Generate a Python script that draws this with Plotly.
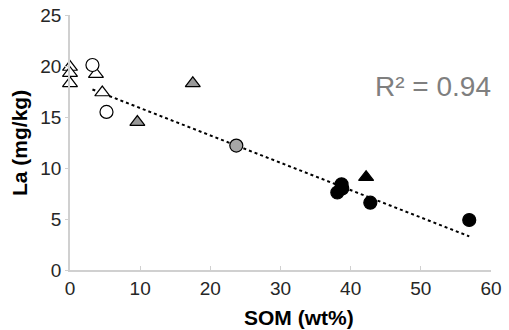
import plotly.graph_objects as go

# Data
open_tri_x = [0.0, 0.0, 0.0, 3.7, 4.6]
open_tri_y = [19.9, 19.3, 18.3, 19.2, 17.4]
open_circ_x = [3.2, 5.2]
open_circ_y = [20.1, 15.5]
gray_tri_x = [9.6, 17.5]
gray_tri_y = [14.5, 18.3]
gray_circ_x = [23.7]
gray_circ_y = [12.2]
black_circ_x = [38.7, 38.8, 38.1, 42.8, 56.9]
black_circ_y = [8.4, 8.0, 7.6, 6.6, 4.9]
black_tri_x = [42.2]
black_tri_y = [9.1]
trend_x = [3.2, 56.9]
trend_y = [17.7, 3.3]
r2_text = "R² = 0.94"
x_title = "SOM (wt%)"
y_title = "La (mg/kg)"

FONT = "Liberation Sans, Arial"
fig = go.Figure()
line_common = dict(color="#000000", width=1.2)

fig.add_trace(go.Scatter(x=trend_x, y=trend_y, mode="lines",
                         line=dict(color="#000000", width=2, dash="dot"),
                         showlegend=False, hoverinfo="skip"))

def add(x, y, symbol, fill, size):
    fig.add_trace(go.Scatter(x=x, y=y, mode="markers", showlegend=False,
                             cliponaxis=False,
                             marker=dict(symbol=symbol, size=size, color=fill,
                                         line=line_common)))

add(open_tri_x, open_tri_y, "triangle-up", "#ffffff", 13)
add(open_circ_x, open_circ_y, "circle", "#ffffff", 13)
add(gray_tri_x, gray_tri_y, "triangle-up", "#999999", 13)
add(gray_circ_x, gray_circ_y, "circle", "#a6a6a6", 13)
add(black_circ_x, black_circ_y, "circle", "#000000", 13)
add(black_tri_x, black_tri_y, "triangle-up", "#000000", 13)

fig.add_annotation(x=1.005, y=0.72, xref="paper", yref="paper", text=r2_text,
                   showarrow=False, xanchor="right", yanchor="middle",
                   font=dict(family=FONT, size=28, color="#7f7f7f"))
fig.add_annotation(x=0.543, y=-0.185, xref="paper", yref="paper",
                   text="<b>" + x_title + "</b>", showarrow=False,
                   xanchor="center", yanchor="middle",
                   font=dict(family=FONT, size=21, color="#000000"))
fig.add_annotation(x=-0.12, y=0.5, xref="paper", yref="paper",
                   text="<b>" + y_title + "</b>", showarrow=False, textangle=-90,
                   xanchor="center", yanchor="middle",
                   font=dict(family=FONT, size=21, color="#000000"))

fig.update_layout(
    width=509, height=330,
    margin=dict(l=70, r=18, t=15, b=60),
    plot_bgcolor="#ffffff", paper_bgcolor="#ffffff",
    font=dict(family=FONT, size=19, color="#262626"),
)
fig.update_xaxes(range=[0, 60], dtick=10, showgrid=False, zeroline=False,
                 showline=True, linecolor="#d0d0d0", linewidth=1.5,
                 ticks="inside", ticklen=4, tickcolor="#d0d0d0",
                 automargin=False)
fig.update_yaxes(range=[0, 25], dtick=5, showgrid=False, zeroline=False,
                 showline=True, linecolor="#d0d0d0", linewidth=1.5,
                 ticks="outside", ticklen=3, tickcolor="#d0d0d0",
                 automargin=False)

fig.write_html("out.html", config={"displayModeBar": False},
               post_script="document.body.style.margin='0';document.body.style.overflow='hidden';")
